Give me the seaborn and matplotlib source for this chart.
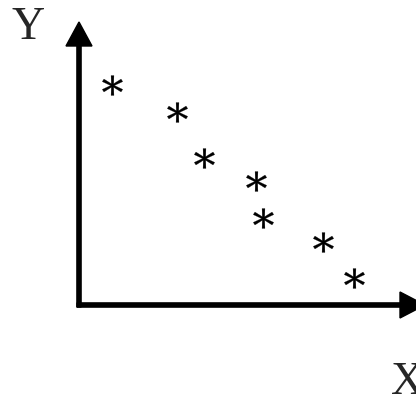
import numpy as np
import pandas as pd
import matplotlib
matplotlib.use("Agg")
import matplotlib.pyplot as plt
import seaborn as sns
from matplotlib.textpath import TextPath
from matplotlib.font_manager import FontProperties
from matplotlib.path import Path

# data (origin at the axes corner)
x_vals = [3.3, 9.8, 12.5, 17.7, 18.4, 24.4, 27.5]
y_vals = [22.0, 19.3, 14.7, 12.4, 8.7, 6.3, 2.7]
x_label = "X"
y_label = "Y"

df = pd.DataFrame({"x": x_vals, "y": y_vals})

sns.set_style("white")
plt.rcParams["font.family"] = ["Liberation Serif", "DejaVu Serif"]

# six-armed asterisk glyph as a marker, centred on its own bbox
tp = TextPath((0, 0), "*", prop=FontProperties(family="DejaVu Serif"), size=10)
ext = tp.get_extents()
v = tp.vertices - [(ext.x0 + ext.x1) / 2, (ext.y0 + ext.y1) / 2]
v[tp.codes == Path.CLOSEPOLY] = 0
star = Path(v, tp.codes)

fig = plt.figure(figsize=(4.16, 4.01), dpi=100)
ax = fig.add_axes([0, 0, 1, 1])
ax.set_xlim(-7.9, 33.7)
ax.set_ylim(-9.6, 30.5)

sns.scatterplot(data=df, x="x", y="y", marker=star, s=215, color="black",
                linewidth=0.2, edgecolor="black", ax=ax, legend=False)

# axes drawn as arrows
ax.arrow(0, -0.2, 0, 28.5, width=0.42, head_width=2.6, head_length=2.4,
         length_includes_head=True, color="black")
ax.arrow(-0.2, 0, 34.8, 0, width=0.42, head_width=2.6, head_length=2.5,
         length_includes_head=True, color="black", clip_on=False)

ax.text(-5.1, 27.7, y_label, fontsize=33, ha="center", va="center")
ax.text(32.9, -7.8, x_label, fontsize=33, ha="center", va="center")

ax.set_axis_off()
fig.savefig("out.png", dpi=100)
